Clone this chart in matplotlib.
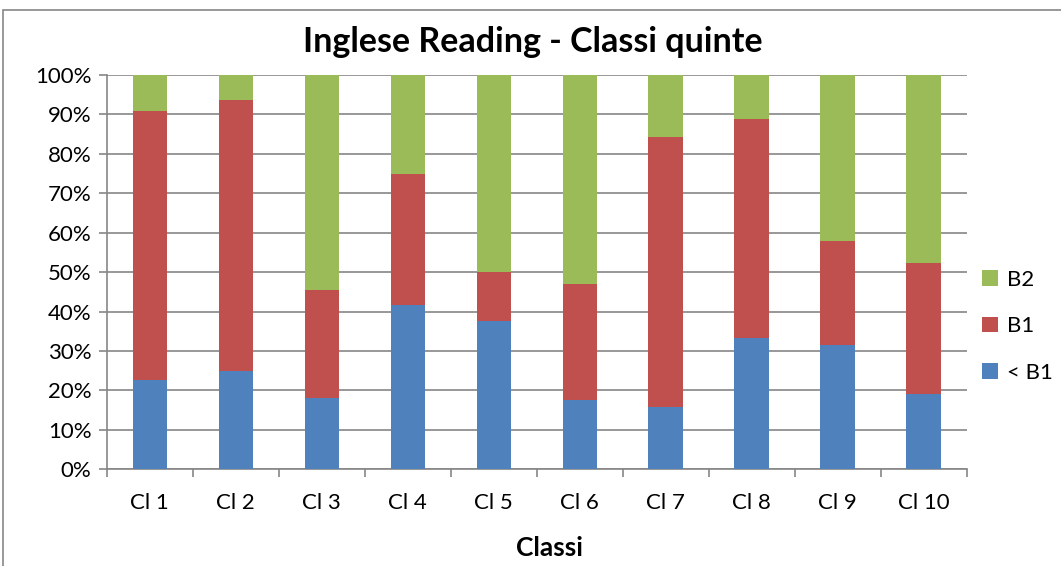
import matplotlib.pyplot as plt
from matplotlib.patches import Rectangle
from matplotlib.ticker import PercentFormatter

plt.rcParams['font.family'] = ['Lato', 'DejaVu Sans']

# share of students per level, one value per class (percent)
classes = ['Cl 1', 'Cl 2', 'Cl 3', 'Cl 4', 'Cl 5', 'Cl 6', 'Cl 7', 'Cl 8', 'Cl 9', 'Cl 10']
below_b1 = [22.7, 25.0, 18.2, 41.7, 37.5, 17.6, 15.8, 33.3, 31.6, 19.0]
b1 = [68.2, 68.75, 27.3, 33.3, 12.5, 29.4, 68.4, 55.6, 26.3, 33.3]
b2 = [9.1, 6.25, 54.5, 25.0, 50.0, 52.9, 15.8, 11.1, 42.1, 47.6]

grid_col = '#868686'

fig = plt.figure(figsize=(10.61, 5.66), dpi=100)
ax = fig.add_axes([0.1006, 0.1708, 0.8105, 0.6967])

# outer chart frame
fig.patches.append(Rectangle((3 / 1061, -0.1), 1.2, 1 - 10 / 566 + 0.1, transform=fig.transFigure,
                             fill=False, edgecolor=grid_col, linewidth=1.2))

x = range(len(classes))
bottom2 = [a + b for a, b in zip(below_b1, b1)]
ax.bar(x, below_b1, width=0.4, color='#4f81bd', label='< B1', zorder=3)
ax.bar(x, b1, width=0.4, bottom=below_b1, color='#c0504d', label='B1', zorder=3)
ax.bar(x, b2, width=0.4, bottom=bottom2, color='#9bbb59', label='B2', zorder=3)

ax.set_xlim(-0.5, len(classes) - 0.5)
ax.set_ylim(0, 100)
ax.set_yticks(range(0, 101, 10))
ax.yaxis.set_major_formatter(PercentFormatter(decimals=0))
ax.set_xticks(x)
ax.set_xticklabels(classes)
ax.set_xticks([i - 0.5 for i in range(len(classes) + 1)], minor=True)
ax.tick_params(axis='x', which='major', length=0, labelsize=16, pad=17)
ax.tick_params(axis='x', which='minor', length=6, color=grid_col, width=1.2)
ax.tick_params(axis='y', length=6, color=grid_col, width=1.2, labelsize=16, pad=5)

ax.grid(axis='y', color=grid_col, linewidth=1.2, zorder=0)
for side in ['top', 'right']:
    ax.spines[side].set_visible(False)
for side in ['left', 'bottom']:
    ax.spines[side].set_color(grid_col)
    ax.spines[side].set_linewidth(1.2)

fig.text(0.502, 0.926, 'Inglese Reading - Classi quinte', ha='center', va='center',
         fontsize=24.5, fontweight='bold')
fig.text(0.518, 0.031, 'Classi', ha='center', va='center', fontsize=19, fontweight='bold')

handles, labels = ax.get_legend_handles_labels()
ax.legend(handles[::-1], labels[::-1], loc='center left', bbox_to_anchor=(1.0, 0.363),
          frameon=False, fontsize=16, handlelength=0.7, handleheight=0.7,
          labelspacing=1.2, handletextpad=0.4, borderaxespad=0.3)

fig.savefig('out.png', dpi=100)
